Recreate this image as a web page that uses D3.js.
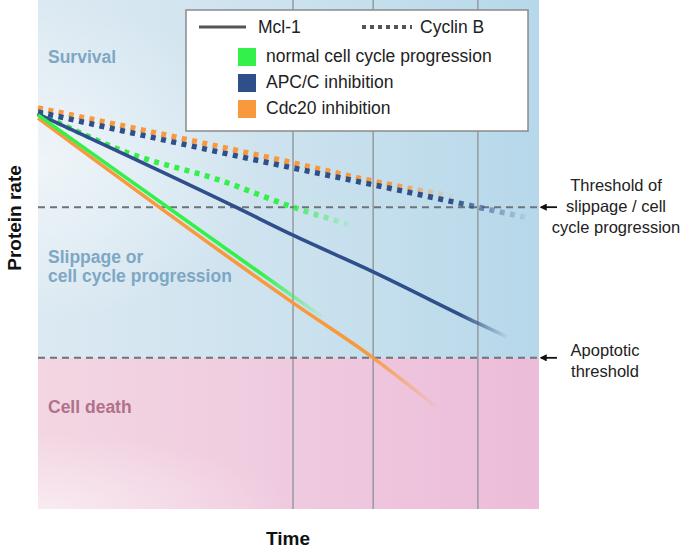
<!DOCTYPE html>
<html><head><meta charset="utf-8">
<script src="https://cdn.jsdelivr.net/npm/d3@7"></script>
<style>body{margin:0;background:#fff}svg{display:block}text{font-family:"Liberation Sans",Arial,sans-serif}</style>
</head><body>
<svg id="c" width="685" height="549"></svg>
<script>
// ---- data ----
const seriesNames = ["normal cell cycle progression", "APC/C inhibition", "Cdc20 inhibition"];
const seriesColors = ["#33f04a", "#2f4f8a", "#f7993c"];
const mcl1Green  = [[0,7.74],[3.43,5.34],[5.69,3.76]];
const mcl1Navy   = [[0,7.76],[3.95,5.93],[5.09,5.38],[6.69,4.66],[8.78,3.65],[9.36,3.38]];
const mcl1Orange = [[0,7.68],[5.09,4.05],[6.69,2.97],[7.96,2.0]];
const cycGreen   = [[0,7.78],[1.84,6.98],[3.63,6.46],[5.09,5.93],[6.31,5.56]];
const cycNavy    = [[0,7.80],[5.09,6.70],[6.69,6.37],[8.78,5.93],[9.78,5.72]];
const cycOrange  = [[0,7.88],[5.09,6.80],[6.69,6.44],[8.30,6.14]];
const fadeStart  = {mcl1Green:0.78, mcl1Navy:0.9, mcl1Orange:0.82, cycGreen:0.78, cycNavy:0.84, cycOrange:0.85};
const timeMarks  = [5.09, 6.69, 8.78];
const thresholds = [{v:5.93, label:["Threshold of","slippage / cell","cycle progression"]},
                    {v:2.97, label:["Apoptotic","threshold"]}];
const regionLabels = [{v:8.76, lines:["Survival"], color:"#7ea7c4"},
                      {v:4.84, lines:["Slippage or","cell cycle progression"], color:"#7ea7c4"},
                      {v:1.88, lines:["Cell death"], color:"#b0718a"}];

// ---- layout ----
const svg = d3.select("#c");
const L=38, R=539, T=0, B=509;
const x = d3.scaleLinear().domain([0,10]).range([L,R]);
const y = d3.scaleLinear().domain([0,10]).range([B,T]);
const defs = svg.append("defs");

// backgrounds
const gb = defs.append("linearGradient").attr("id","gblue").attr("x1","0").attr("x2","1").attr("y1","0").attr("y2","0");
gb.append("stop").attr("offset","0").attr("stop-color","#dce9f2");
gb.append("stop").attr("offset","0.5").attr("stop-color","#cce2ee");
gb.append("stop").attr("offset","1").attr("stop-color","#b6d8ea");
const gp = defs.append("linearGradient").attr("id","gpink").attr("x1","0").attr("x2","1");
gp.append("stop").attr("offset","0").attr("stop-color","#f3d6e2");
gp.append("stop").attr("offset","0.4").attr("stop-color","#f0cde0");
gp.append("stop").attr("offset","1").attr("stop-color","#ecbcd9");
const rw = defs.append("radialGradient").attr("id","glow").attr("cx","0").attr("cy","0.45").attr("r","0.45");
rw.append("stop").attr("offset","0").attr("stop-color","#fff").attr("stop-opacity",0.55);
rw.append("stop").attr("offset","1").attr("stop-color","#fff").attr("stop-opacity",0);
const rp = defs.append("radialGradient").attr("id","glowp").attr("cx","0").attr("cy","1").attr("r","0.5");
rp.append("stop").attr("offset","0").attr("stop-color","#fff").attr("stop-opacity",0.5);
rp.append("stop").attr("offset","1").attr("stop-color","#fff").attr("stop-opacity",0);

const apo = thresholds[1].v;
svg.append("rect").attr("x",L).attr("y",T).attr("width",R-L).attr("height",y(apo)-T).attr("fill","url(#gblue)");
svg.append("rect").attr("x",L).attr("y",T).attr("width",R-L).attr("height",y(apo)-T).attr("fill","url(#glow)");
svg.append("rect").attr("x",L).attr("y",y(apo)).attr("width",R-L).attr("height",B-y(apo)).attr("fill","url(#gpink)");
svg.append("rect").attr("x",L).attr("y",y(apo)).attr("width",R-L).attr("height",B-y(apo)).attr("fill","url(#glowp)");

// vertical time marks
svg.selectAll(".vt").data(timeMarks).join("line")
  .attr("x1",d=>x(d)).attr("x2",d=>x(d)).attr("y1",T).attr("y2",B)
  .attr("stroke","#959aa0").attr("stroke-width",1.5);

// thresholds
svg.selectAll(".th").data(thresholds).join("line")
  .attr("x1",L).attr("x2",R+1).attr("y1",d=>y(d.v)).attr("y2",d=>y(d.v))
  .attr("stroke","#6e7378").attr("stroke-width",2).attr("stroke-dasharray","7,5");

// region labels
regionLabels.forEach(r=>{
  const t = svg.append("text").attr("x",48).attr("y",y(r.v)).attr("fill",r.color)
    .attr("font-size",17.5).attr("font-weight","bold");
  r.lines.forEach((s,i)=>t.append("tspan").attr("x",48).attr("dy",i?19.5:0).text(s));
});

// lines
const line = d3.line().x(d=>x(d[0])).y(d=>y(d[1])).curve(d3.curveMonotoneX);
function grad(id,pts,color,fs){
  const g = defs.append("linearGradient").attr("id",id).attr("gradientUnits","userSpaceOnUse")
    .attr("x1",x(pts[0][0])).attr("x2",x(pts[pts.length-1][0])).attr("y1",0).attr("y2",0);
  g.append("stop").attr("offset",0).attr("stop-color",color).attr("stop-opacity",1);
  g.append("stop").attr("offset",fs).attr("stop-color",color).attr("stop-opacity",1);
  g.append("stop").attr("offset",1).attr("stop-color",color).attr("stop-opacity",0.05);
  return "url(#"+id+")";
}
const dotted = [["cycOrange",cycOrange,2],["cycGreen",cycGreen,0],["cycNavy",cycNavy,1]];
dotted.forEach(([id,pts,ci])=>{
  svg.append("path").attr("d",line(pts)).attr("fill","none")
    .attr("stroke",grad(id,pts,seriesColors[ci],fadeStart[id]))
    .attr("stroke-width",5.5).attr("stroke-dasharray","5,5.5");
});
const solid = [["mcl1Navy",mcl1Navy,1],["mcl1Orange",mcl1Orange,2],["mcl1Green",mcl1Green,0]];
solid.forEach(([id,pts,ci])=>{
  svg.append("path").attr("d",line(pts)).attr("fill","none")
    .attr("stroke",grad(id,pts,seriesColors[ci],fadeStart[id]))
    .attr("stroke-width",3.6).attr("stroke-linecap","butt");
});

// legend
const lg = svg.append("g");
lg.append("rect").attr("x",186).attr("y",10).attr("width",342).attr("height",121)
  .attr("fill","#fff").attr("stroke","#8a8a8a").attr("stroke-width",1.5);
lg.append("line").attr("x1",199).attr("x2",246).attr("y1",27).attr("y2",27).attr("stroke","#555").attr("stroke-width",3);
lg.append("text").attr("x",258).attr("y",33).attr("font-size",17.5).attr("fill","#222").text("Mcl-1");
lg.append("line").attr("x1",362).attr("x2",412).attr("y1",27).attr("y2",27).attr("stroke","#555")
  .attr("stroke-width",4).attr("stroke-dasharray","4,4");
lg.append("text").attr("x",420).attr("y",33).attr("font-size",17.5).attr("fill","#222").text("Cyclin B");
seriesNames.forEach((n,i)=>{
  lg.append("rect").attr("x",238).attr("y",48+i*26).attr("width",18).attr("height",18).attr("fill",seriesColors[i]);
  lg.append("text").attr("x",266).attr("y",62+i*26).attr("font-size",17.5).attr("fill","#222").text(n);
});

// right annotations
defs.append("marker").attr("id","ah").attr("viewBox","0 0 10 10").attr("refX",8).attr("refY",5)
  .attr("markerWidth",4).attr("markerHeight",4).attr("orient","auto")
  .append("path").attr("d","M0,0 L10,5 L0,10 z").attr("fill","#111");
const anno = [{cx:616, base:191}, {cx:605, base:356}];
thresholds.forEach((t,i)=>{
  svg.append("line").attr("x1",557).attr("x2",541).attr("y1",y(t.v)).attr("y2",y(t.v))
    .attr("stroke","#111").attr("stroke-width",1.8).attr("marker-end","url(#ah)");
  const tx = svg.append("text").attr("text-anchor","middle").attr("font-size",16.5).attr("fill","#222")
    .attr("y",anno[i].base);
  t.label.forEach((s,j)=>tx.append("tspan").attr("x",anno[i].cx).attr("dy",j?21:0).text(s));
});

// axis titles
svg.append("text").attr("transform","translate(21,218) rotate(-90)").attr("text-anchor","middle")
  .attr("font-size",19).attr("font-weight","bold").attr("fill","#111").text("Protein rate");
svg.append("text").attr("x",288).attr("y",545).attr("text-anchor","middle")
  .attr("font-size",19).attr("font-weight","bold").attr("fill","#111").text("Time");
</script>
</body></html>
